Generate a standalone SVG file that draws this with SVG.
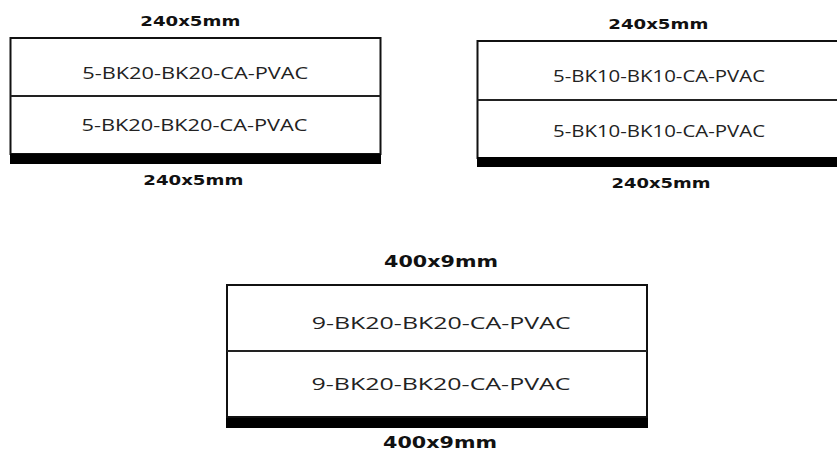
<svg xmlns="http://www.w3.org/2000/svg" width="837" height="450" viewBox="0 0 837 450">
<style>
.box{fill:#fff;stroke:#111;stroke-width:2}
.div{stroke:#222;stroke-width:2}
.bar{fill:#000}
.name{font-family:"Open Sans",sans-serif;font-size:17px;fill:#222;text-anchor:middle}
.dim{font-family:"DejaVu Sans",sans-serif;font-weight:bold;font-size:14px;fill:#111;text-anchor:middle}
.dim9{font-family:"DejaVu Sans",sans-serif;font-weight:bold;font-size:15.5px;fill:#111;text-anchor:middle}
</style>
<rect width="837" height="450" fill="#fff"/>
<g id="block-bk20-240">
<text class="dim" x="190.3" y="26" textLength="100" lengthAdjust="spacingAndGlyphs">240x5mm</text>
<rect class="box" x="10.5" y="38" width="370" height="116"/>
<line class="div" x1="10.5" y1="96" x2="380.5" y2="96"/>
<rect class="bar" x="10" y="154" width="371" height="10"/>
<text class="name" x="195.3" y="79" textLength="226" lengthAdjust="spacingAndGlyphs">5-BK20-BK20-CA-PVAC</text>
<text class="name" x="194.5" y="131" textLength="226" lengthAdjust="spacingAndGlyphs">5-BK20-BK20-CA-PVAC</text>
<text class="dim" x="193.3" y="185" textLength="100" lengthAdjust="spacingAndGlyphs">240x5mm</text>
</g>
<g id="block-bk10-240">
<text class="dim" x="658.3" y="29.3" textLength="100" lengthAdjust="spacingAndGlyphs">240x5mm</text>
<rect class="box" x="477.5" y="41" width="370" height="117"/>
<line class="div" x1="477.5" y1="100" x2="847" y2="100"/>
<rect class="bar" x="477" y="157" width="370" height="10"/>
<text class="name" x="659" y="82.3" textLength="212" lengthAdjust="spacingAndGlyphs">5-BK10-BK10-CA-PVAC</text>
<text class="name" x="659" y="136.7" textLength="212" lengthAdjust="spacingAndGlyphs">5-BK10-BK10-CA-PVAC</text>
<text class="dim" x="661" y="188.3" textLength="99" lengthAdjust="spacingAndGlyphs">240x5mm</text>
</g>
<g id="block-bk20-400">
<text class="dim9" x="441" y="267.3" textLength="114" lengthAdjust="spacingAndGlyphs">400x9mm</text>
<rect class="box" x="227" y="285" width="420" height="132"/>
<line class="div" x1="227" y1="351" x2="647" y2="351"/>
<rect class="bar" x="226" y="418" width="422" height="10"/>
<text class="name" x="441.2" y="329" textLength="259" lengthAdjust="spacingAndGlyphs">9-BK20-BK20-CA-PVAC</text>
<text class="name" x="441" y="390" textLength="259" lengthAdjust="spacingAndGlyphs">9-BK20-BK20-CA-PVAC</text>
<text class="dim9" x="440" y="447.5" textLength="114" lengthAdjust="spacingAndGlyphs">400x9mm</text>
</g>
</svg>
